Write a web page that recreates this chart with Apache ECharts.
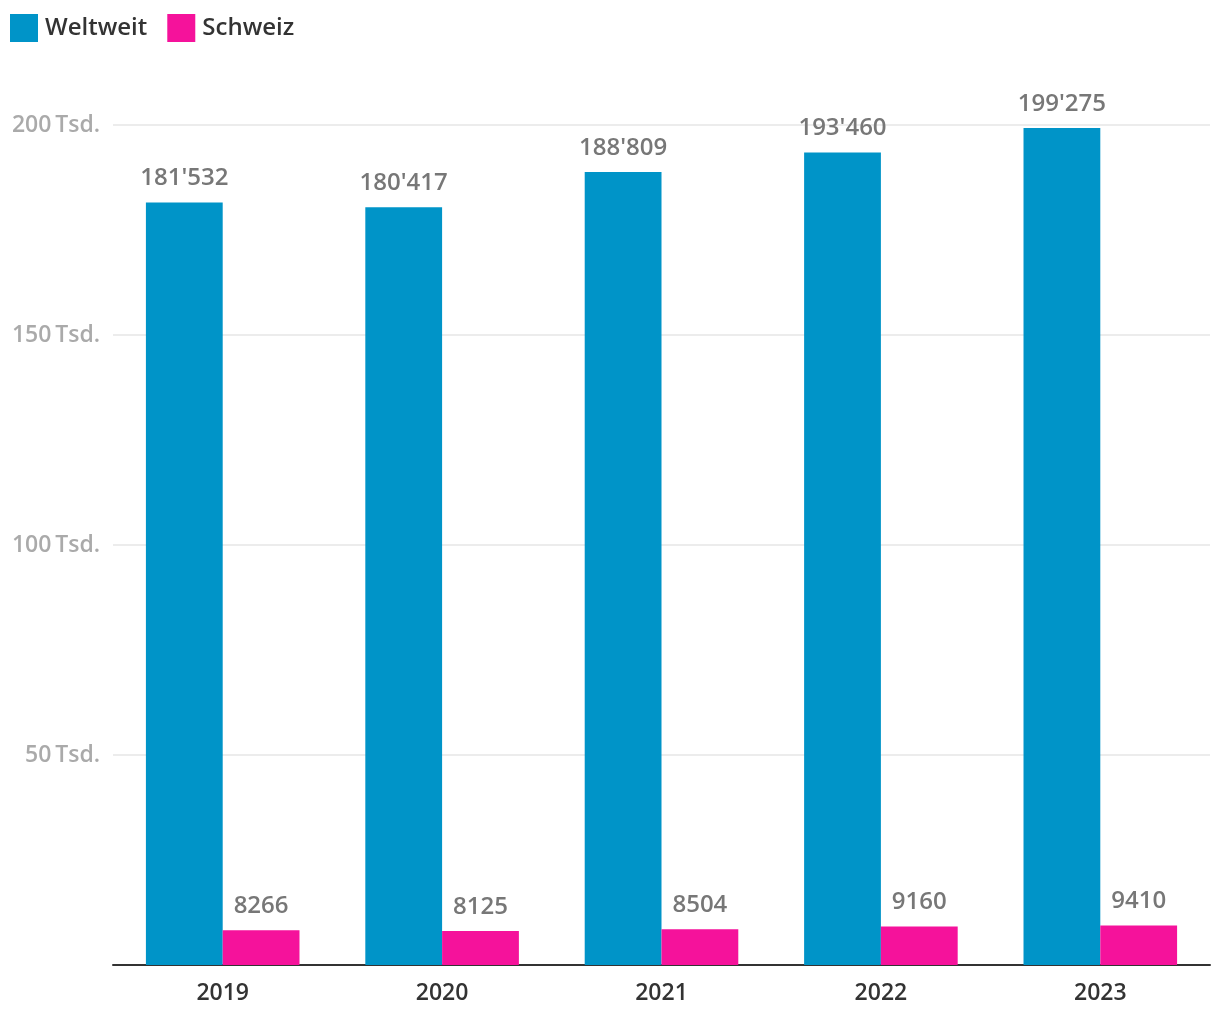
<!DOCTYPE html>
<html><head><meta charset="utf-8">
<script src="https://cdn.jsdelivr.net/npm/echarts@6/dist/echarts.min.js"></script>
<style>html,body{margin:0;padding:0;background:#fff}#c{width:1220px;height:1020px}</style>
</head><body><div id="c"></div>
<script>
const categories = ['2019','2020','2021','2022','2023'];
const weltweit = [181532, 180417, 188809, 193460, 199275];
const schweiz = [8266, 8125, 8504, 9160, 9410];
const yTicks = [0, 50000, 100000, 150000, 200000];

const font = '"Open Sans", "Noto Sans", sans-serif';
function fmtApos(v){ return String(v).replace(/\B(?=(\d{3})+(?!\d))/g, "'"); }

const chart = echarts.init(document.getElementById('c'));
chart.setOption({
  animation:false,
  textStyle:{fontFamily:font},
  legend:{left:5,top:9,itemWidth:28,itemHeight:28,itemGap:20,icon:'rect',
    textStyle:{fontFamily:font,fontSize:24,fontWeight:600,color:'#333',padding:[0,0,0,2]}},
  grid:{left:113,right:10,top:125,bottom:55,containLabel:false},
  xAxis:{type:'category',data:categories,
    axisLine:{lineStyle:{color:'#333',width:2}},axisTick:{show:false},
    axisLabel:{fontFamily:font,fontSize:23,fontWeight:600,color:'#333',margin:17}},
  yAxis:{type:'value',min:yTicks[0],max:yTicks[yTicks.length-1],interval:50000,
    axisLine:{show:false},axisTick:{show:false},
    splitLine:{lineStyle:{color:'#e6e6e6',width:1.5}},
    axisLabel:{fontFamily:font,fontSize:23,fontWeight:600,color:'#aaaaaa',margin:13,
      formatter:v=> v===0 ? '' : (v/1000)+'\u2009Tsd.'}},
  series:[
    {name:'Weltweit',type:'bar',data:weltweit,barGap:'0%',barCategoryGap:'30%',
     itemStyle:{color:'#0094c8'},
     label:{show:true,position:'top',distance:12,fontFamily:font,fontSize:24,fontWeight:600,color:'#777',
       formatter:p=>fmtApos(p.value)}},
    {name:'Schweiz',type:'bar',data:schweiz,
     itemStyle:{color:'#f5129b'},
     label:{show:true,position:'top',distance:12,fontFamily:font,fontSize:24,fontWeight:600,color:'#777'}}
  ]
});
</script></body></html>
